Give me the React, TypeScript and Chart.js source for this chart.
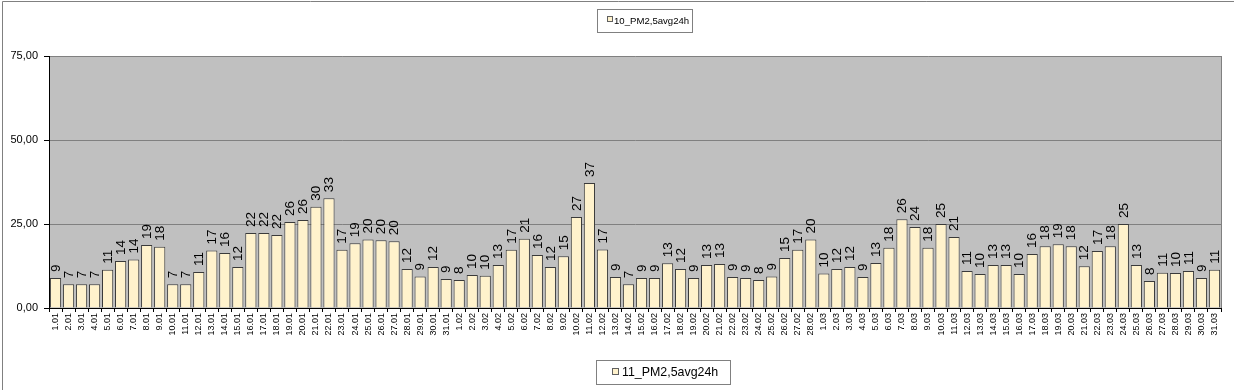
import React, { useEffect, useRef } from "react";
import { Chart, registerables } from "chart.js";

Chart.register(...registerables);

const categories: string[] = [
  "1.01","2.01","3.01","4.01","5.01","6.01","7.01","8.01","9.01","10.01",
  "11.01","12.01","13.01","14.01","15.01","16.01","17.01","18.01","19.01","20.01",
  "21.01","22.01","23.01","24.01","25.01","26.01","27.01","28.01","29.01","30.01","31.01",
  "1.02","2.02","3.02","4.02","5.02","6.02","7.02","8.02","9.02","10.02",
  "11.02","12.02","13.02","14.02","15.02","16.02","17.02","18.02","19.02","20.02",
  "21.02","22.02","23.02","24.02","25.02","26.02","27.02","28.02",
  "1.03","2.03","3.03","4.03","5.03","6.03","7.03","8.03","9.03","10.03",
  "11.03","12.03","13.03","14.03","15.03","16.03","17.03","18.03","19.03","20.03",
  "21.03","22.03","23.03","24.03","25.03","26.03","27.03","28.03","29.03","30.03","31.03",
];

const janValues: number[] = [
  8.9, 7.1, 7.1, 7.1, 11.4, 14.0, 14.4, 18.75, 18.2, 7.1,
  7.1, 10.7, 17.1, 16.4, 12.2, 22.3, 22.3, 21.7, 25.6, 26.2,
  30.1, 32.7, 17.3, 19.3, 20.4, 20.2, 19.9, 11.6, 9.4, 12.2, 8.6,
];
const febValues: number[] = [
  8.3, 9.8, 9.6, 12.8, 17.3, 20.6, 15.8, 12.2, 15.4, 27.1,
  37.2, 17.4, 9.2, 7.1, 8.9, 8.9, 13.3, 11.6, 8.9, 12.8,
  13.1, 9.2, 8.9, 8.3, 9.4, 14.9, 17.3, 20.4,
];
const marValues: number[] = [
  10.3, 11.6, 12.2, 9.2, 13.4, 17.9, 26.4, 24.1, 17.9, 25.0,
  21.1, 11.0, 10.1, 12.8, 12.8, 10.1, 16.1, 18.4, 19.0, 18.4,
  12.4, 17.0, 18.4, 25.0, 12.8, 8.0, 10.5, 10.4, 11.0, 8.9, 11.4,
];
const seriesValues: number[] = [...janValues, ...febValues, ...marValues];

const yTicks: number[] = [0, 25, 50, 75];
const topLegendLabel = "10_PM2,5avg24h";
const bottomLegendLabel = "11_PM2,5avg24h";

const BAR_FILL = "#FFF2CC";
const BAR_BORDER = "#3A3A3A";
const PLOT_BG = "#C0C0C0";
const FONT = "'Liberation Sans', Arial, sans-serif";

const decorPlugin = {
  id: "decor",
  beforeDraw(chart: any) {
    const { ctx, chartArea, width, height } = chart;
    ctx.save();
    ctx.fillStyle = "#FFFFFF";
    ctx.fillRect(0, 0, width, height);
    ctx.strokeStyle = "#808080";
    ctx.lineWidth = 1;
    ctx.beginPath();
    ctx.moveTo(2.5, height + 5);
    ctx.lineTo(2.5, 1.5);
    ctx.lineTo(width + 5, 1.5);
    ctx.stroke();
    ctx.fillStyle = PLOT_BG;
    ctx.fillRect(chartArea.left, chartArea.top, chartArea.right - chartArea.left, chartArea.bottom - chartArea.top);
    ctx.restore();
  },
  afterDatasetsDraw(chart: any) {
    const { ctx } = chart;
    const meta = chart.getDatasetMeta(0);
    const data = chart.data.datasets[0].data as number[];
    ctx.save();
    ctx.fillStyle = "#000000";
    ctx.font = `13.5px ${FONT}`;
    ctx.textAlign = "left";
    ctx.textBaseline = "middle";
    meta.data.forEach((bar: any, i: number) => {
      const label = String(Math.round(data[i]));
      ctx.save();
      ctx.translate(bar.x + 0.5, bar.y - 6);
      ctx.rotate(-Math.PI / 2);
      ctx.fillText(label, 0, 0);
      ctx.restore();
    });
    ctx.restore();
  },
  afterDraw(chart: any) {
    const { ctx, chartArea } = chart;
    ctx.save();
    ctx.strokeStyle = "#808080";
    ctx.lineWidth = 1;
    ctx.beginPath();
    ctx.moveTo(chartArea.right + 0.5, chartArea.bottom);
    ctx.lineTo(chartArea.right + 0.5, chartArea.top);
    ctx.stroke();

    const drawLegend = (x: number, y: number, w: number, h: number, sx: number, sy: number, ss: number, tx: number, size: number, text: string) => {
      ctx.fillStyle = "#FFFFFF";
      ctx.fillRect(x, y, w, h);
      ctx.strokeStyle = "#808080";
      ctx.lineWidth = 1;
      ctx.strokeRect(x + 0.5, y + 0.5, w, h);
      ctx.fillStyle = BAR_FILL;
      ctx.fillRect(sx, sy, ss, ss);
      ctx.strokeStyle = "#606060";
      ctx.strokeRect(sx + 0.5, sy + 0.5, ss, ss);
      ctx.fillStyle = "#000000";
      ctx.font = `${size}px ${FONT}`;
      ctx.textAlign = "left";
      ctx.textBaseline = "middle";
      ctx.fillText(text, tx, y + h / 2 + 1);
    };
    drawLegend(597, 9, 95, 23, 607, 16, 5, 614, 9.6, topLegendLabel);
    drawLegend(596, 360, 134, 24, 612, 368, 6, 622, 12.4, bottomLegendLabel);
    ctx.restore();
  },
};

export default function App() {
  const canvasRef = useRef<HTMLCanvasElement | null>(null);

  useEffect(() => {
    document.body.style.margin = "0";
    const canvas = canvasRef.current;
    if (!canvas) return;
    const chart = new Chart(canvas, {
      type: "bar",
      data: {
        labels: categories,
        datasets: [
          {
            label: topLegendLabel,
            data: seriesValues,
            backgroundColor: BAR_FILL,
            borderColor: BAR_BORDER,
            borderWidth: 1,
            barPercentage: 0.86,
            categoryPercentage: 1,
          },
        ],
      },
      options: {
        responsive: false,
        animation: false,
        devicePixelRatio: 1,
        layout: { padding: { top: 56, left: 0, right: 13, bottom: 42 } },
        plugins: {
          legend: { display: false },
          tooltip: { enabled: false },
          title: { display: false },
        },
        scales: {
          x: {
            grid: {
              display: true,
              drawOnChartArea: false,
              offset: true,
              tickLength: 4,
              tickColor: "#000000",
            },
            border: { display: true, color: "#000000" },
            ticks: {
              autoSkip: false,
              maxRotation: 90,
              minRotation: 90,
              padding: 1,
              color: "#000000",
              font: { family: FONT, size: 9 },
            },
            afterFit(scale: any) {
              scale.height = 40;
            },
          },
          y: {
            min: 0,
            max: 75,
            afterBuildTicks(scale: any) {
              scale.ticks = yTicks.map((v) => ({ value: v }));
            },
            grid: {
              color: "#808080",
              lineWidth: 1,
              tickLength: 5,
              tickColor: "#000000",
            },
            border: { display: true, color: "#000000" },
            ticks: {
              padding: 6,
              color: "#000000",
              font: { family: FONT, size: 11 },
              callback: (v: any) => Number(v).toFixed(2).replace(".", ","),
            },
            afterFit(scale: any) {
              scale.width = 49;
            },
          },
        },
      },
      plugins: [decorPlugin],
    });
    return () => chart.destroy();
  }, []);

  return (
    <div style={{ width: 1234, height: 390 }}>
      <canvas ref={canvasRef} width={1234} height={390} style={{ display: "block" }} />
    </div>
  );
}
